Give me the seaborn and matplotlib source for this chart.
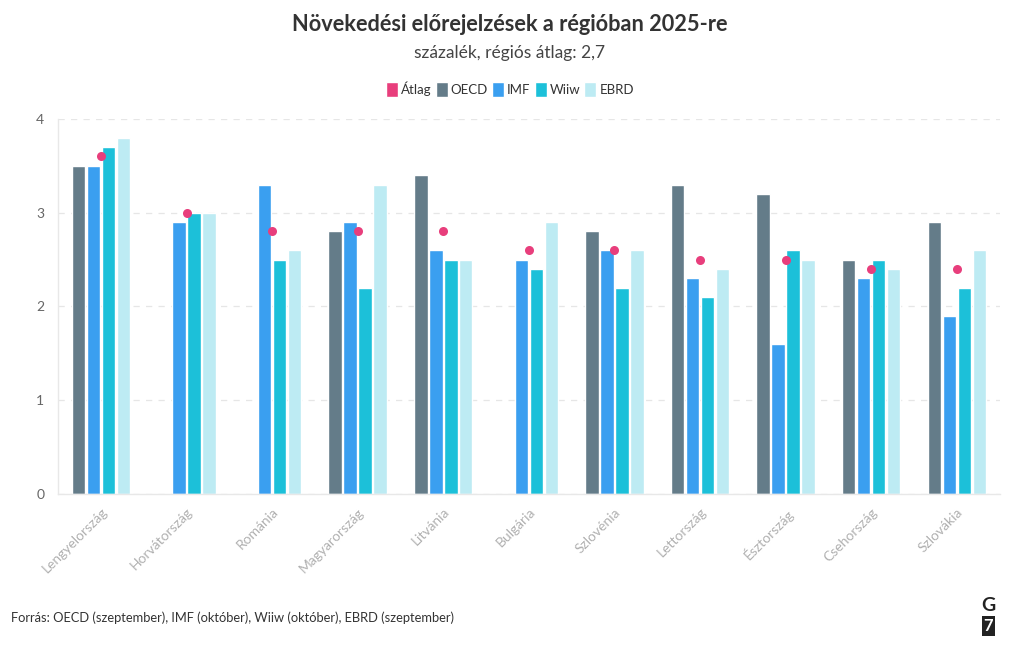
import numpy as np
import pandas as pd
import matplotlib.pyplot as plt
import seaborn as sns
from matplotlib.patches import Patch

countries = ['Lengyelország', 'Horvátország', 'Románia', 'Magyarország', 'Litvánia',
             'Bulgária', 'Szlovénia', 'Lettország', 'Észtország', 'Csehország', 'Szlovákia']
oecd = [3.5, np.nan, np.nan, 2.8, 3.4, np.nan, 2.8, 3.3, 3.2, 2.5, 2.9]
imf = [3.5, 2.9, 3.3, 2.9, 2.6, 2.5, 2.6, 2.3, 1.6, 2.3, 1.9]
wiiw = [3.7, 3.0, 2.5, 2.2, 2.5, 2.4, 2.2, 2.1, 2.6, 2.5, 2.2]
ebrd = [3.8, 3.0, 2.6, 3.3, 2.5, 2.9, 2.6, 2.4, 2.5, 2.4, 2.6]
atlag = [3.6, 3.0, 2.8, 2.8, 2.8, 2.6, 2.6, 2.5, 2.5, 2.4, 2.4]

sources = ['OECD', 'IMF', 'Wiiw', 'EBRD']
colors = {'OECD': '#647c89', 'IMF': '#3a9ff0', 'Wiiw': '#1cc0d9', 'EBRD': '#bdebf3'}
avg_color = '#e83e7c'

df = pd.DataFrame({'ország': countries, 'OECD': oecd, 'IMF': imf, 'Wiiw': wiiw, 'EBRD': ebrd})
long_df = df.melt(id_vars='ország', var_name='forrás', value_name='érték')

sns.set_style('white')
plt.rcParams['font.family'] = ['Lato', 'DejaVu Sans']

fig = plt.figure(figsize=(10.2, 6.5), dpi=100)
ax = fig.add_axes([0.057, 0.24, 0.923, 0.577])

sns.barplot(data=long_df, x='ország', y='érték', hue='forrás', hue_order=sources,
            palette=colors, width=0.7, gap=0.1, saturation=1, ax=ax, legend=False)
sns.stripplot(x=countries, y=atlag, jitter=False, color=avg_color, size=6.5,
              linewidth=0, ax=ax, zorder=5)

ax.set_ylim(0, 4)
ax.set_yticks([0, 1, 2, 3, 4])
ax.set_xlim(-0.5, len(countries) - 0.5)
ax.set_xlabel('')
ax.set_ylabel('')
ax.yaxis.grid(True, linestyle=(0, (5, 5)), color='#e6e6e6', linewidth=0.9)
ax.set_axisbelow(True)
for s in ['top', 'right']:
    ax.spines[s].set_visible(False)
for s in ['left', 'bottom']:
    ax.spines[s].set_color('#e8e8e8')
    ax.spines[s].set_linewidth(1)
ax.tick_params(axis='y', length=0, labelsize=10, labelcolor='#666666', pad=10)
ax.tick_params(axis='x', length=5, color='#e8e8e8', labelsize=10, labelcolor='#b0b0b0')
plt.setp(ax.get_xticklabels(), rotation=45, ha='right', rotation_mode='anchor')

fig.text(0.5, 0.962, 'Növekedési előrejelzések a régióban 2025-re', ha='center', va='center',
         fontsize=15.7, fontweight='bold', color='#333333')
fig.text(0.5, 0.918, 'százalék, régiós átlag: 2,7', ha='center', va='center',
         fontsize=12.5, color='#444444')

handles = [Patch(facecolor=avg_color, label='Átlag')] + \
          [Patch(facecolor=colors[s], label=s) for s in sources]
fig.legend(handles=handles, loc='center', bbox_to_anchor=(0.5, 0.863), ncol=5, frameon=False,
           handlelength=0.9, handleheight=1.3, handletextpad=0.25, columnspacing=0.3,
           fontsize=9.5, labelcolor='#333333')

fig.text(0.011, 0.05, 'Forrás: OECD (szeptember), IMF (október), Wiiw (október), EBRD (szeptember)',
         ha='left', va='center', fontsize=9.3, color='#333333')
fig.text(0.969, 0.068, 'G', ha='center', va='center', fontsize=14, fontweight='bold', color='#222222')
fig.text(0.969, 0.037, '7', ha='center', va='center', fontsize=12, fontweight='bold', color='white',
         bbox=dict(boxstyle='square,pad=0.12', facecolor='#222222', edgecolor='none'))

fig.savefig('out.png', dpi=100)
